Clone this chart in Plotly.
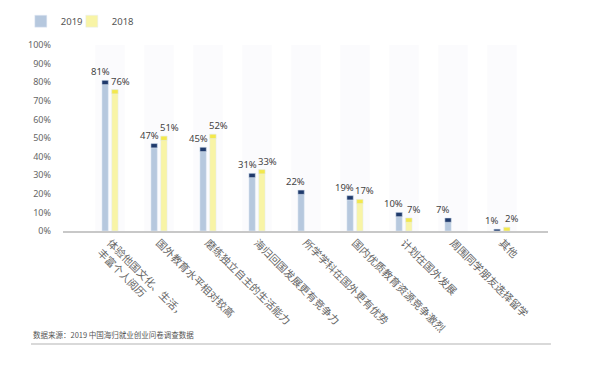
import plotly.graph_objects as go

categories = [
    "体验他国文化、生活，<br>丰富个人阅历",
    "国外教育水平相对较高",
    "磨练独立自主的生活能力",
    "海归回国发展更有竞争力",
    "所学学科在国外更有优势",
    "国内优质教育资源竞争激烈",
    "计划在国外发展",
    "周围同学朋友选择留学",
    "其他",
]
values_2019 = [81, 47, 45, 31, 22, 19, 10, 7, 1]
values_2018 = [76, 51, 52, 33, None, 17, 7, None, 2]
y_ticks = [0, 10, 20, 30, 40, 50, 60, 70, 80, 90, 100]

FONT = "Noto Sans, DejaVu Sans, sans-serif"
CJK = "Noto Sans CJK SC, Noto Sans, sans-serif"
BLUE_BODY, BLUE_CAP = "#b6c8de", "#1f3a6c"
YEL_BODY, YEL_CAP = "#f8f4a6", "#f3e84c"
CAP = 2.3
W = 0.13
x_idx = list(range(len(categories)))

def caps(vals):
    base, h = [], []
    for v in vals:
        if v is None:
            base.append(None); h.append(None)
        else:
            c = min(CAP, v)
            base.append(v - c); h.append(c)
    return base, h

fig = go.Figure()
fig.add_trace(go.Bar(x=x_idx, y=values_2019, name="2019", marker_color=BLUE_BODY,
                     width=W, offset=-0.165, hoverinfo="skip"))
fig.add_trace(go.Bar(x=x_idx, y=values_2018, name="2018", marker_color=YEL_BODY,
                     width=W, offset=0.035, hoverinfo="skip"))
# invisible entry that only widens the legend box so "2018" is not clipped
fig.add_trace(go.Scatter(x=[None], y=[None], name="      ", mode="lines",
                         line=dict(width=0, color="rgba(0,0,0,0)"), hoverinfo="skip"))
b, h = caps(values_2019)
fig.add_trace(go.Bar(x=x_idx, y=h, base=b, marker_color=BLUE_CAP, width=W, offset=-0.165,
                     showlegend=False, hoverinfo="skip"))
b, h = caps(values_2018)
fig.add_trace(go.Bar(x=x_idx, y=h, base=b, marker_color=YEL_CAP, width=W, offset=0.035,
                     showlegend=False, hoverinfo="skip"))

shapes = []
for i in x_idx:
    shapes.append(dict(type="rect", xref="x", yref="y", x0=i - 0.3, x1=i + 0.3, y0=0, y1=100,
                       fillcolor="#fbfbfd", line_width=0, layer="below"))
shapes.append(dict(type="line", xref="paper", yref="paper", x0=-0.066, x1=1.006,
                   y0=-0.6075, y1=-0.6075, line=dict(color="#cccccc", width=1.5)))

annotations = []
for i, v in enumerate(values_2019):
    if v is not None:
        annotations.append(dict(x=i, y=v, text=f"{v}%", showarrow=False, yanchor="bottom",
                                xshift=-10, yshift=0, font=dict(size=9.5, color="#444", family=FONT)))
for i, v in enumerate(values_2018):
    if v is not None:
        annotations.append(dict(x=i, y=v, text=f"{v}%", showarrow=False, yanchor="bottom",
                                xshift=10, yshift=0, font=dict(size=9.5, color="#444", family=FONT)))
annotations.append(dict(xref="paper", yref="paper", x=-0.066, y=-0.559, xanchor="left",
                        yanchor="middle", showarrow=False,
                        text="数据来源：2019 中国海归就业创业问卷调查数据",
                        font=dict(size=7.5, color="#555", family=CJK)))

fig.update_layout(
    width=599, height=369,
    margin=dict(l=55, r=59, t=37, b=146, autoexpand=False),
    paper_bgcolor="white", plot_bgcolor="white",
    barmode="overlay",
    shapes=shapes, annotations=annotations,
    showlegend=True,
    legend=dict(orientation="h", x=-0.087, y=1.206, xanchor="left", yanchor="top",
                font=dict(size=9.5, color="#555", family=FONT), itemwidth=30,
                entrywidth=6, traceorder="normal"),
    xaxis=dict(tickmode="array", tickvals=x_idx, ticktext=categories, range=[-0.96, 8.94],
               tickangle=45, tickfont=dict(size=10.5, color="#666", family=CJK),
               showline=True, linecolor="#c8c8c8", linewidth=1.5, showgrid=False,
               zeroline=False, ticks=""),
    yaxis=dict(range=[0, 100], tickvals=y_ticks, ticktext=[f"{t}%" for t in y_ticks],
               tickfont=dict(size=9, color="#666", family=FONT), showgrid=False,
               zeroline=False, showline=False, ticklabelstandoff=11),
)
fig.write_html("out.html")
